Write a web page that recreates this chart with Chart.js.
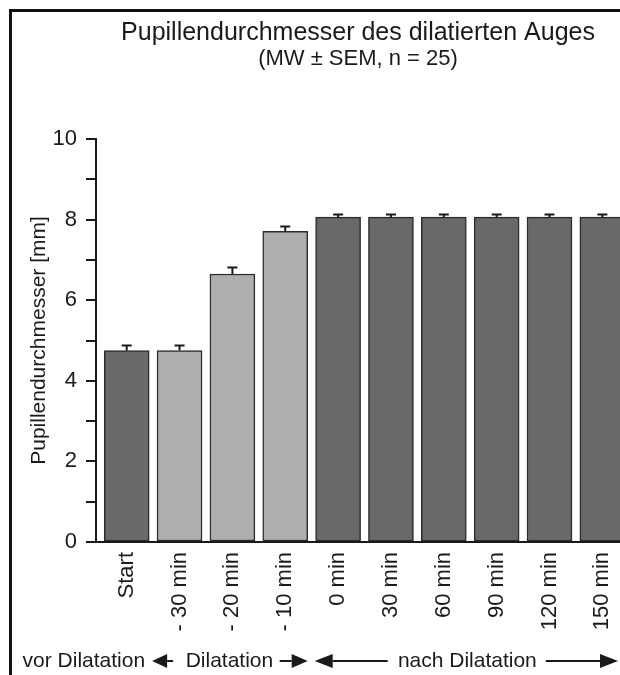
<!DOCTYPE html>
<html>
<head>
<meta charset="utf-8">
<script src="https://cdn.jsdelivr.net/npm/chart.js@4.4.1/dist/chart.umd.min.js"></script>
<style>
  html, body { margin: 0; padding: 0; background: #fff; overflow: hidden; }
  #wrap { position: relative; width: 620px; height: 675px; }
  #frame { position: absolute; left: 9px; top: 9px; width: 700px; height: 700px;
           border-left: 3px solid #111; border-top: 3px solid #111; }
  canvas { position: absolute; left: 0; top: 0; }
</style>
</head>
<body>
<div id="wrap">
  <div id="frame"></div>
  <canvas id="grafica" width="620" height="675"></canvas>
</div>
<script>
// Daten
const labels = ['Start', '- 30 min', '- 20 min', '- 10 min', '0 min', '30 min', '60 min', '90 min', '120 min', '150 min']
const means = [4.75, 4.75, 6.65, 7.71, 8.06, 8.06, 8.06, 8.06, 8.06, 8.06]
const sems = [0.13, 0.13, 0.17, 0.14, 0.09, 0.09, 0.09, 0.09, 0.09, 0.09]
const phases = ['vor', 'dil', 'dil', 'dil', 'nach', 'nach', 'nach', 'nach', 'nach', 'nach']
const phaseNames = ['vor Dilatation', 'Dilatation', 'nach Dilatation']
const yMax = 10

const colors = { vor: 'rgb(104,105,104)', dil: 'rgb(173,174,173)', nach: 'rgb(104,105,104)' }
const ink = '#1a1a1a'
const family = '"Liberation Sans", Arial, sans-serif'

// Fehlerbalken (SEM)
const errorBars = {
    id: 'errorBars',
    afterDatasetsDraw(chart) {
        const { ctx, scales: { y } } = chart
        const meta = chart.getDatasetMeta(0)
        ctx.save()
        ctx.strokeStyle = ink
        ctx.lineWidth = 2
        meta.data.forEach((bar, i) => {
            const top = Math.round(y.getPixelForValue(means[i] + sems[i])) + 0.5
            ctx.beginPath()
            ctx.moveTo(bar.x, bar.y)
            ctx.lineTo(bar.x, top)
            ctx.moveTo(bar.x - 5, top)
            ctx.lineTo(bar.x + 5, top)
            ctx.stroke()
        })
        ctx.restore()
    }
}

function arrow(ctx, from, tip, y, head) {
    const dir = Math.sign(tip - from)
    ctx.beginPath()
    ctx.moveTo(from, y)
    ctx.lineTo(tip - dir * head, y)
    ctx.stroke()
    ctx.beginPath()
    ctx.moveTo(tip, y)
    ctx.lineTo(tip - dir * head, y - 7)
    ctx.lineTo(tip - dir * head, y + 7)
    ctx.closePath()
    ctx.fill()
}

// Phasen-Zeile unter der Achse
const phaseRow = {
    id: 'phaseRow',
    afterDraw(chart) {
        const { ctx, scales: { x } } = chart
        const b1 = x.getPixelForValue(0.5)
        const b2 = x.getPixelForValue(3.5)
        const yy = 661
        ctx.save()
        ctx.font = '21px ' + family
        ctx.fillStyle = ink
        ctx.strokeStyle = ink
        ctx.lineWidth = 2
        ctx.textBaseline = 'middle'

        ctx.textAlign = 'right'
        ctx.fillText(phaseNames[0], b1 - 8, yy)
        arrow(ctx, b1 + 20, b1 - 1, yy, 15)

        ctx.textAlign = 'center'
        ctx.fillText(phaseNames[1], (b1 + b2) / 2 - 3, yy)
        arrow(ctx, b2 - 32, b2 - 4, yy, 16)
        arrow(ctx, b2 + 76, b2 + 3, yy, 18)

        const mid = (b2 + 3 + chart.width) / 2
        ctx.fillText(phaseNames[2], mid, yy)
        const end = mid + ctx.measureText(phaseNames[2]).width / 2
        arrow(ctx, end + 9, chart.width - 2, yy, 18)
        ctx.restore()
    }
}

const data = {
    datasets: [{
        data: labels.map((l, i) => ({ x: i, y: means[i] })),
        backgroundColor: phases.map(p => colors[p]),
        borderColor: '#2b2b2b',
        borderWidth: 1.5,
        borderSkipped: false,
        barThickness: 45
    }]
}

const config = {
    type: 'bar',
    data: data,
    options: {
        responsive: false,
        animation: false,
        layout: { padding: { left: 14, top: 0, right: 0, bottom: 0 } },
        plugins: {
            legend: { display: false },
            tooltip: { enabled: false },
            title: {
                display: true,
                text: 'Pupillendurchmesser des dilatierten Auges',
                fullSize: false,
                color: ink,
                font: { family: family, size: 25, weight: 'normal' },
                padding: { top: 18, bottom: 0 }
            },
            subtitle: {
                display: true,
                text: '(MW ± SEM, n = 25)',
                fullSize: false,
                color: ink,
                font: { family: family, size: 22, lineHeight: 1 },
                padding: { top: 0, bottom: 69 }
            }
        },
        scales: {
            x: {
                type: 'linear',
                offset: false,
                min: -0.581,
                max: 9.334,
                bounds: 'data',
                grid: { display: false, drawTicks: false, offset: false },
                border: { color: ink, width: 2 },
                ticks: {
                    autoSkip: false,
                    minRotation: 90,
                    maxRotation: 90,
                    padding: 10,
                    color: ink,
                    font: { family: family, size: 22 },
                    callback: v => labels[v]
                },
                afterBuildTicks: s => { s.ticks = labels.map((l, i) => ({ value: i })) },
                afterFit: s => {
                    s.height = 133
                    s.paddingLeft = 0
                    s.paddingRight = 0
                }
            },
            y: {
                min: 0,
                max: yMax,
                ticks: {
                    stepSize: 1,
                    padding: 9,
                    color: ink,
                    font: { family: family, size: 22 },
                    callback: v => (v % 2 === 0 ? String(v) : '')
                },
                grid: { drawOnChartArea: false, color: ink, lineWidth: 2, tickLength: 10 },
                border: { color: ink, width: 2 },
                title: {
                    display: true,
                    text: 'Pupillendurchmesser [mm]',
                    color: ink,
                    font: { family: family, size: 21 },
                    padding: { top: 13, bottom: 0 }
                },
                afterFit: s => { s.width = 82 }
            }
        }
    },
    plugins: [errorBars, phaseRow]
}

new Chart(document.getElementById('grafica'), config)
</script>
</body>
</html>
